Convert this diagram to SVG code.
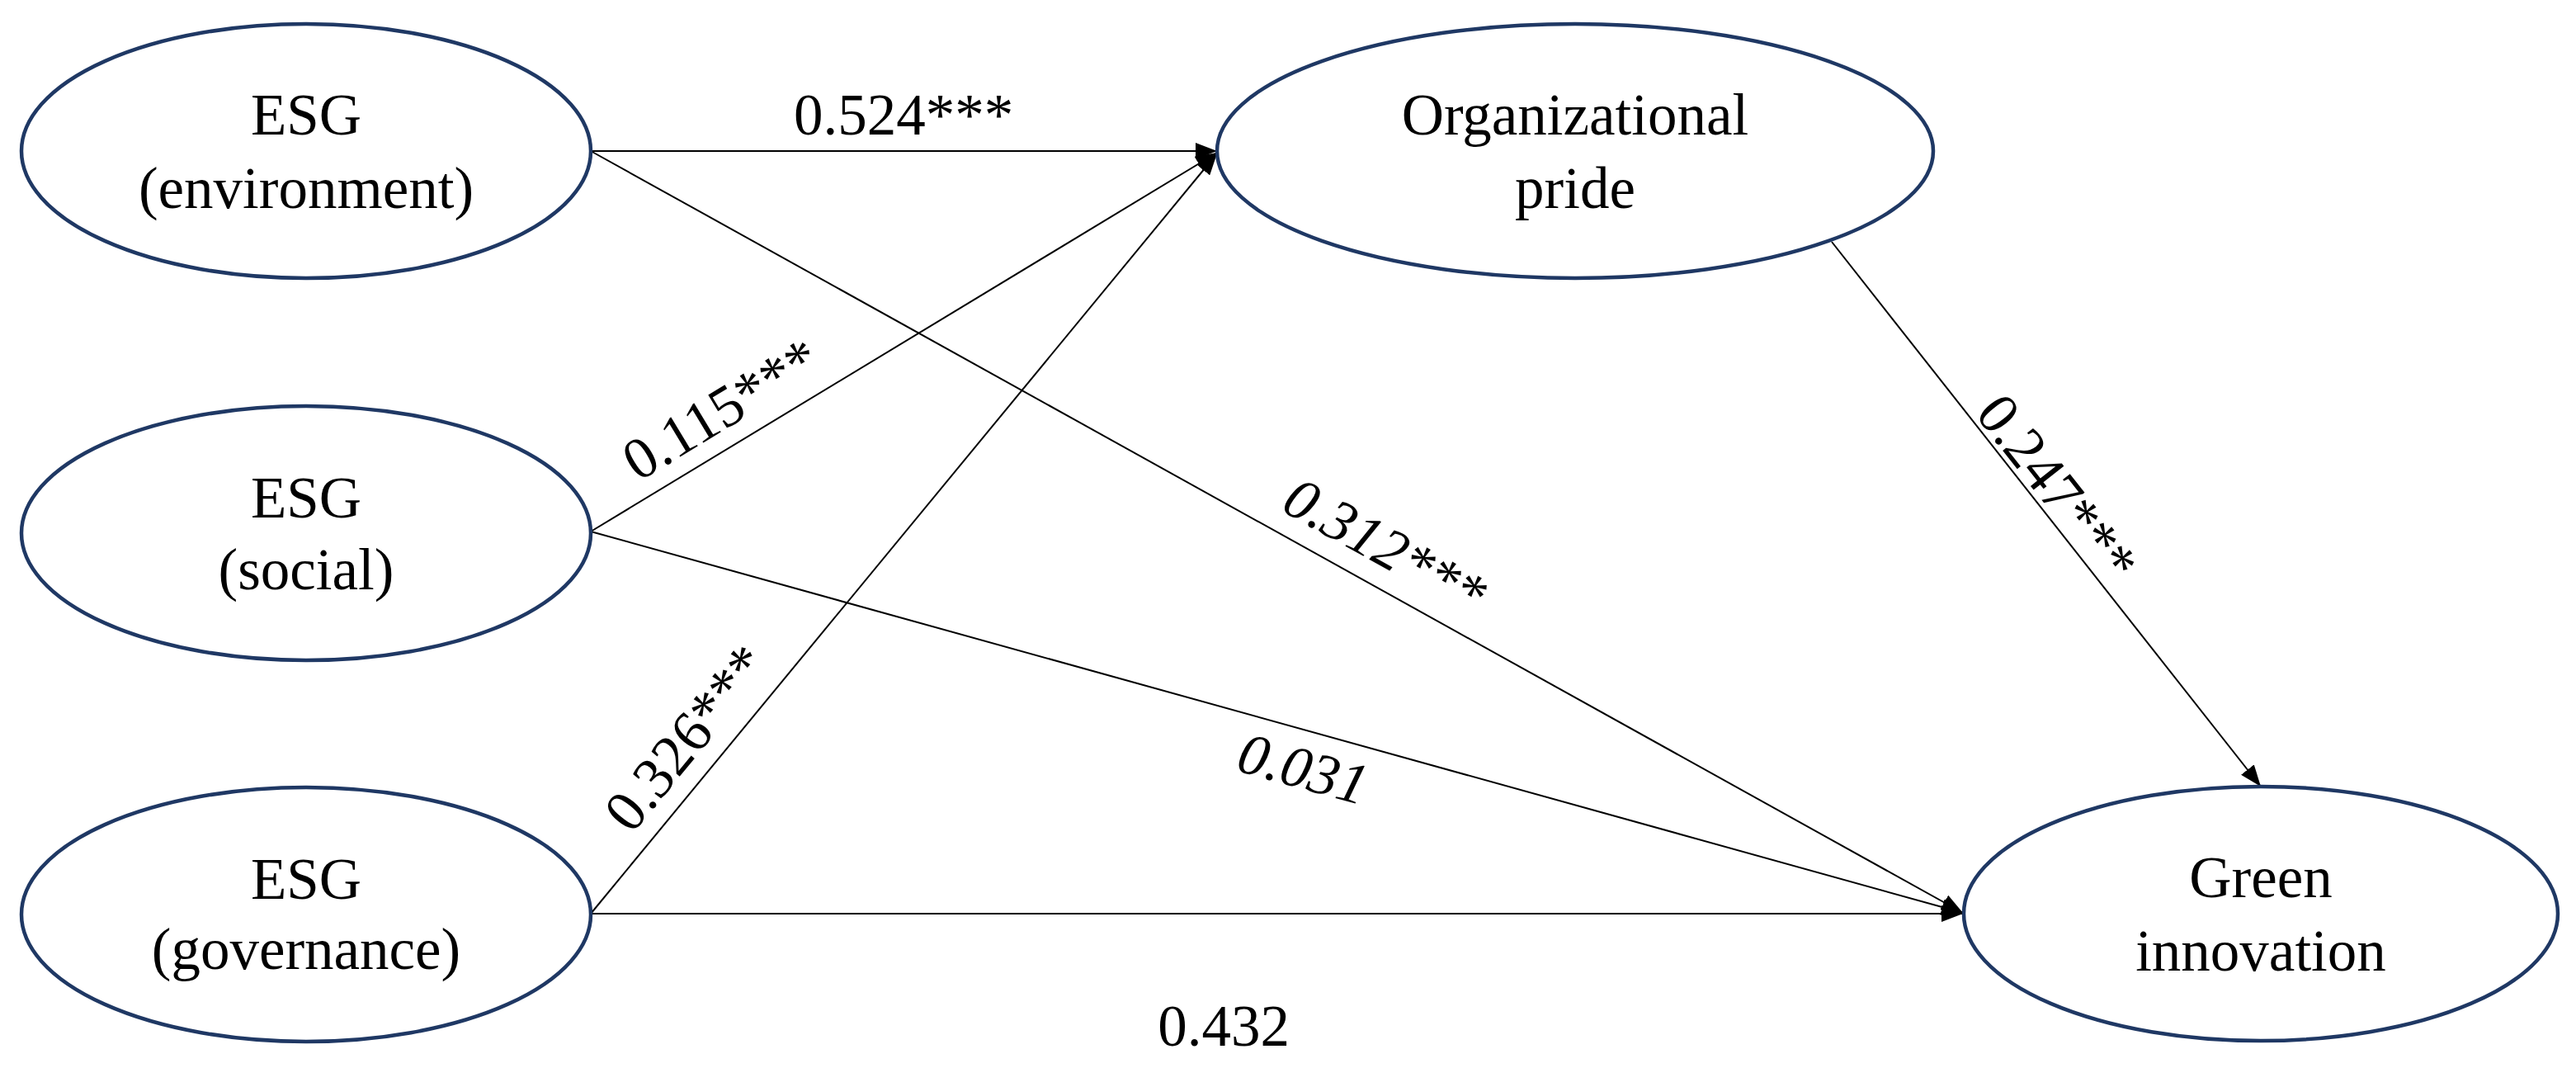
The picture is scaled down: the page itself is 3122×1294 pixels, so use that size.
<svg xmlns="http://www.w3.org/2000/svg" width="3122" height="1294" viewBox="0 0 3122 1294">
<style>
.node ellipse{fill:#fff;stroke:#1f3864;stroke-width:4.5}
text{font-family:"Liberation Serif","Times New Roman",serif;font-size:71px;fill:#000}
.nt{text-anchor:middle}
.lbl{text-anchor:middle}
.it{font-style:italic}
.edge{stroke:#000;stroke-width:2;fill:none;marker-end:url(#arr)}
</style>
<defs>
<marker id="arr" markerWidth="26" markerHeight="20" refX="26" refY="10" orient="auto" markerUnits="userSpaceOnUse">
<path d="M0,0 L26,10 L0,20 z" fill="#000"/>
</marker>
</defs>
<rect width="3122" height="1294" fill="#fff"/>
<g id="connectors">
<line class="edge" x1="716" y1="183" x2="1475" y2="183"/>
<line class="edge" x1="716" y1="183" x2="2379" y2="1106"/>
<line class="edge" x1="716" y1="644" x2="1475" y2="185"/>
<line class="edge" x1="716" y1="644" x2="2379" y2="1106"/>
<line class="edge" x1="716" y1="1107" x2="1475" y2="186"/>
<line class="edge" x1="716" y1="1107" x2="2379" y2="1107"/>
<line class="edge" x1="2220" y1="293" x2="2740" y2="953"/>
<text class="lbl" x="1095" y="163">0.524***</text>
<text class="lbl" transform="translate(897,534) rotate(-31.2)" x="0" y="-21">0.115***</text>
<text class="lbl" transform="translate(867,923) rotate(-50.5)" x="0" y="-22">0.326***</text>
<text class="lbl it" transform="translate(1655,704) rotate(29)" x="0" y="-25">0.312***</text>
<text class="lbl it" transform="translate(1592,887) rotate(15.5)" x="0" y="70">0.031</text>
<text class="lbl" x="1483" y="1267">0.432</text>
<text class="lbl" transform="translate(2470,610) rotate(51.8)" x="0" y="-6">0.247***</text>
</g>
<g id="node-env" class="node">
<ellipse cx="371" cy="183" rx="345" ry="154"/>
<text class="nt" x="371" y="163">ESG</text>
<text class="nt" x="371" y="252">(environment)</text>
</g>
<g id="node-soc" class="node">
<ellipse cx="371" cy="646" rx="345" ry="154"/>
<text class="nt" x="371" y="627">ESG</text>
<text class="nt" x="371" y="714">(social)</text>
</g>
<g id="node-gov" class="node">
<ellipse cx="371" cy="1108" rx="345" ry="154"/>
<text class="nt" x="371" y="1089">ESG</text>
<text class="nt" x="371" y="1174">(governance)</text>
</g>
<g id="node-op" class="node">
<ellipse cx="1909" cy="183" rx="434" ry="154"/>
<text class="nt" x="1909" y="163">Organizational</text>
<text class="nt" x="1909" y="252">pride</text>
</g>
<g id="node-gi" class="node">
<ellipse cx="2740" cy="1107" rx="360" ry="154"/>
<text class="nt" x="2740" y="1087">Green</text>
<text class="nt" x="2740" y="1176">innovation</text>
</g>
</svg>
